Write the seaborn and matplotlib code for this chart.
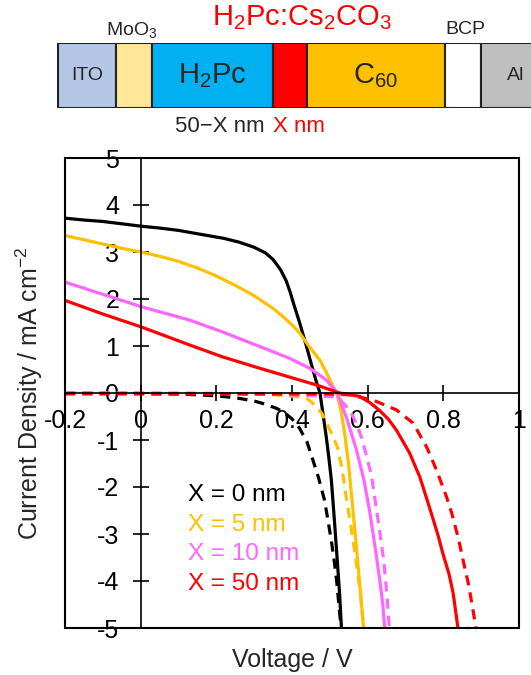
import numpy as np
import pandas as pd
import seaborn as sns
import matplotlib.pyplot as plt
from matplotlib.patches import Rectangle

# J-V data (V in volts, J in mA cm^-2), light = solid, dark = dashed
v_light_0 = [-0.2, -0.15, -0.1, -0.05, 0, 0.05, 0.1, 0.17, 0.22, 0.26, 0.3, 0.33, 0.35, 0.37, 0.385, 0.395, 0.405, 0.42, 0.438, 0.455, 0.465, 0.474,
             0.482, 0.49, 0.497, 0.504, 0.512, 0.52, 0.526, 0.532]
j_light_0 = [3.72, 3.68, 3.65, 3.6, 3.55, 3.51, 3.46, 3.36, 3.29, 3.21, 3.1, 2.98, 2.84, 2.62, 2.38, 2.15, 1.88, 1.5, 1.0, 0.5, 0.22, 0.0,
             -0.45, -0.9, -1.35, -1.85, -2.7, -3.6, -4.3, -5.2]
v_dark_0 = [-0.2, 0, 0.1, 0.2, 0.25, 0.3, 0.33, 0.36, 0.38, 0.40, 0.42, 0.44, 0.455, 0.47, 0.485, 0.495, 0.505, 0.512, 0.518, 0.525, 0.532]
j_dark_0 = [0.0, -0.01, -0.02, -0.06, -0.1, -0.17, -0.24, -0.33, -0.42, -0.55, -0.75, -1.05, -1.42, -1.8, -2.25, -2.7, -3.2, -3.6, -4.0, -4.6, -5.2]

v_light_5 = [-0.2, -0.15, -0.1, -0.05, 0, 0.05, 0.1, 0.15, 0.2, 0.25, 0.3, 0.35, 0.38, 0.4, 0.42, 0.446, 0.46, 0.475, 0.49, 0.505, 0.52,
             0.53, 0.54, 0.55, 0.56, 0.57, 0.578, 0.584, 0.591]
j_light_5 = [3.35, 3.26, 3.17, 3.08, 3.0, 2.91, 2.8, 2.66, 2.49, 2.29, 2.07, 1.8, 1.6, 1.45, 1.28, 0.98, 0.84, 0.68, 0.45, 0.2, -0.05,
             -0.4, -0.9, -1.55, -2.4, -3.25, -3.98, -4.5, -5.2]
v_dark_5 = [-0.2, 0, 0.2, 0.3, 0.38, 0.437, 0.46, 0.48, 0.50, 0.52, 0.532, 0.543, 0.557, 0.57, 0.58, 0.592]
j_dark_5 = [0.0, 0.0, -0.01, -0.02, -0.05, -0.1, -0.25, -0.45, -0.78, -1.15, -1.6, -2.2, -2.9, -3.6, -4.2, -5.2]

v_light_10 = [-0.2, -0.1, 0, 0.13, 0.216, 0.305, 0.393, 0.446, 0.473, 0.49, 0.505, 0.52, 0.545, 0.57, 0.59, 0.605, 0.62, 0.632, 0.64, 0.647]
j_light_10 = [2.36, 2.1, 1.84, 1.55, 1.3, 1.02, 0.74, 0.53, 0.38, 0.28, 0.14, 0.0, -0.55, -1.2, -1.85, -2.5, -3.3, -3.98, -4.5, -5.2]
v_dark_10 = [-0.2, 0, 0.2, 0.3, 0.4, 0.46, 0.51, 0.53, 0.545, 0.56, 0.574, 0.585, 0.595, 0.61, 0.62, 0.632, 0.643, 0.651, 0.659]
j_dark_10 = [0.0, 0.0, -0.01, -0.02, -0.04, -0.06, -0.08, -0.17, -0.3, -0.48, -0.72, -0.98, -1.28, -1.75, -2.3, -2.95, -3.6, -4.3, -5.2]

v_light_50 = [-0.2, -0.1, 0, 0.13, 0.216, 0.305, 0.393, 0.465, 0.526, 0.578, 0.605, 0.63, 0.655, 0.676, 0.711, 0.738, 0.764, 0.785, 0.80, 0.815, 0.826, 0.842]
j_light_50 = [1.97, 1.68, 1.41, 1.02, 0.77, 0.55, 0.34, 0.17, 0.0, -0.07, -0.2, -0.36, -0.56, -0.79, -1.28, -1.79, -2.45, -3.0, -3.45, -3.85, -4.26, -5.2]
v_dark_50 = [-0.2, 0, 0.2, 0.4, 0.5, 0.552, 0.614, 0.676, 0.72, 0.756, 0.782, 0.808, 0.822, 0.84, 0.852, 0.866, 0.878, 0.89]
j_dark_50 = [-0.02, -0.02, -0.02, -0.02, -0.02, -0.04, -0.15, -0.36, -0.64, -1.15, -1.64, -2.2, -2.55, -3.1, -3.55, -4.05, -4.6, -5.2]

thickness_labels = ['X = 0 nm', 'X = 5 nm', 'X = 10 nm', 'X = 50 nm']
colors = ['#000000', '#FFC000', '#FF66FF', '#FF0000']

# device stack schematic (widths in arbitrary schematic units)
layer_names = ['ITO', 'MoO3', 'H2Pc', 'H2Pc:Cs2CO3', 'C60', 'BCP', 'Al']
layer_widths = [58, 36, 121, 34, 138, 36, 70]
layer_colors = ['#B4C7E7', '#FFE699', '#00B0F0', '#FF0000', '#FFC000', '#FFFFFF', '#BFBFBF']

curves = [
    (v_light_0, j_light_0, v_dark_0, j_dark_0),
    (v_light_5, j_light_5, v_dark_5, j_dark_5),
    (v_light_10, j_light_10, v_dark_10, j_dark_10),
    (v_light_50, j_light_50, v_dark_50, j_dark_50),
]
rows = []
for lab, (vl, jl, vd, jd) in zip(thickness_labels, curves):
    rows.append(pd.DataFrame({'V': vd, 'J': jd, 'X': lab, 'cond': 'dark'}))
    rows.append(pd.DataFrame({'V': vl, 'J': jl, 'X': lab, 'cond': 'light'}))
df = pd.concat(rows, ignore_index=True)

sns.set_style('ticks')
plt.rcParams['font.family'] = ['Liberation Sans', 'DejaVu Sans']
plt.rcParams['mathtext.default'] = 'regular'
plt.rcParams['axes.unicode_minus'] = False

W, H = 531, 675
fig = plt.figure(figsize=(W / 100, H / 100), dpi=100)

# ---- main J-V axes
ax = fig.add_axes([65 / W, 47 / H, 454 / W, 470 / H])
pal = dict(zip(thickness_labels, colors))
for lab in thickness_labels:
    sub = df[df['X'] == lab]
    sns.lineplot(data=sub, x='V', y='J', hue='X', style='cond', palette=pal,
                 dashes={'light': '', 'dark': (3.2, 2.2)}, style_order=['light', 'dark'],
                 estimator=None, sort=False, lw=2.3, legend=False, ax=ax)

ax.set_xlim(-0.2, 1)
ax.set_ylim(-5, 5)
ax.set_xticks(np.arange(-0.2, 1.01, 0.2))
ax.set_xticklabels(['-0.2', '0', '0.2', '0.4', '0.6', '0.8', '1'])
ax.set_yticks(np.arange(-5, 6, 1))
ax.spines['left'].set_position(('data', 0))
ax.spines['bottom'].set_position(('data', 0))
for s in ax.spines.values():
    s.set_linewidth(1.2)
    s.set_color('black')
ax.add_patch(Rectangle((0, 0), 1, 1, transform=ax.transAxes, fill=False,
                       lw=1.5, ec='black', clip_on=False, zorder=5))
ax.tick_params(axis='both', direction='inout', length=11, width=1.2, labelsize=18, colors='black')
ax.tick_params(axis='y', pad=10)
ax.tick_params(axis='x', pad=6)
ax.set_xlabel('Voltage / V', fontsize=18)
ax.set_ylabel('Current Density / mA cm$^{-2}$', fontsize=18)
ax.xaxis.set_label_coords(0.5, -0.042)
ax.yaxis.set_label_coords(-0.045, 0.5)

for i, (lab, c) in enumerate(zip(thickness_labels, colors)):
    ax.text(0.271, 0.283 - i * 0.063, lab, color=c, fontsize=17.5,
            transform=ax.transAxes, ha='left', va='center')

# ---- device schematic
ax2 = fig.add_axes([57 / W, 1 - 108 / H, 1 - 57 / W, 65 / H])
lefts = np.concatenate([[58], 58 + np.cumsum(layer_widths)[:-1]])
ax2.barh(0.5, layer_widths, left=lefts, height=1, color=layer_colors,
         edgecolor='#222222', lw=1.5)
ax2.set_xlim(57, 531)
ax2.set_ylim(0, 1)
ax2.axis('off')
mids = lefts + np.array(layer_widths) / 2
inner = {'ITO': ('ITO', 14), 'H2Pc': ('H$_2$Pc', 21), 'C60': ('C$_{60}$', 21), 'Al': ('Al', 14)}
for name, m in zip(layer_names, mids):
    if name in inner:
        txt, fs = inner[name]
        ax2.text(m, 0.5, txt, ha='center', va='center', fontsize=fs)


def px(x, y):
    return x / W, 1 - y / H


fig.text(*px(132, 30), 'MoO$_3$', ha='center', va='center', fontsize=14)
fig.text(*px(465, 30), 'BCP', ha='center', va='center', fontsize=14)
fig.text(*px(302, 18), 'H$_2$Pc:Cs$_2$CO$_3$', ha='center', va='center', fontsize=21, color='#FF0000')
fig.text(*px(265, 126), '50\u2212X nm', ha='right', va='center', fontsize=16)
fig.text(*px(273, 126), 'X nm', ha='left', va='center', fontsize=16, color='#FF0000')

fig.savefig('out.png', dpi=100)
